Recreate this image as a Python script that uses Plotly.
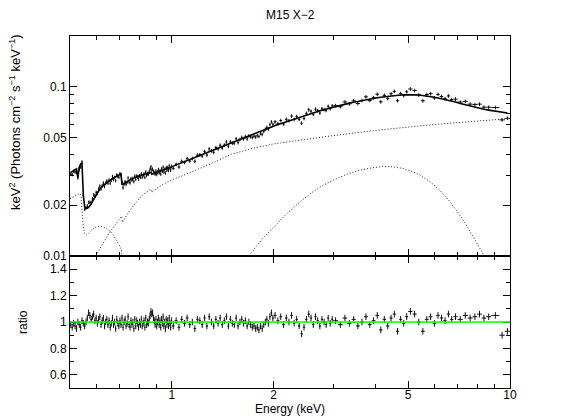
import numpy as np
import plotly.graph_objects as go
from plotly.subplots import make_subplots

# ---------------- data ----------------
E_EDGES = [
    0.500, 0.505, 0.510, 0.515, 0.520, 0.525, 0.530, 0.535, 0.540, 0.545,
    0.550, 0.555, 0.560, 0.565, 0.570, 0.575, 0.580, 0.585, 0.590, 0.595,
    0.600, 0.605, 0.610, 0.615, 0.620, 0.625, 0.630, 0.635, 0.640, 0.645,
    0.650, 0.655, 0.660, 0.665, 0.670, 0.675, 0.680, 0.685, 0.690, 0.695,
    0.700, 0.705, 0.710, 0.715, 0.720, 0.725, 0.730, 0.735, 0.740, 0.745,
    0.750, 0.755, 0.760, 0.765, 0.770, 0.775, 0.780, 0.785, 0.790, 0.795,
    0.800, 0.805, 0.810, 0.815, 0.820, 0.825, 0.830, 0.835, 0.840, 0.845,
    0.850, 0.855, 0.860, 0.865, 0.870, 0.875, 0.880, 0.885, 0.890, 0.895,
    0.900, 0.905, 0.910, 0.915, 0.920, 0.925, 0.930, 0.935, 0.940, 0.945,
    0.950, 0.955, 0.960, 0.965, 0.970, 0.975, 0.980, 0.985, 0.990, 0.995,
    1.00, 1.02, 1.04, 1.06, 1.08, 1.10, 1.12, 1.14, 1.16, 1.18,
    1.20, 1.22, 1.24, 1.26, 1.28, 1.30, 1.32, 1.34, 1.36, 1.38,
    1.40, 1.42, 1.44, 1.46, 1.48, 1.50, 1.52, 1.54, 1.56, 1.58,
    1.60, 1.62, 1.64, 1.66, 1.68, 1.70, 1.72, 1.74, 1.76, 1.78,
    1.80, 1.82, 1.84, 1.86, 1.88, 1.90, 1.92, 1.94, 1.96, 1.98,
    2.00, 2.04, 2.08, 2.12, 2.16, 2.20, 2.24, 2.28, 2.32, 2.36,
    2.40, 2.44, 2.48, 2.52, 2.56, 2.60, 2.64, 2.68, 2.72, 2.76,
    2.80, 2.84, 2.88, 2.92, 2.96,
    3.0, 3.1, 3.2, 3.3, 3.4, 3.5, 3.6, 3.7, 3.8, 3.9,
    4.0, 4.1, 4.2, 4.3, 4.4, 4.5, 4.6, 4.7, 4.8, 4.9,
    5.0, 5.15, 5.3, 5.45, 5.6, 5.75, 5.9, 6.05, 6.2, 6.35, 6.5, 6.65, 6.8,
    7.0, 7.25, 7.5, 7.75, 8.0, 8.25, 8.5, 8.8, 9.3, 9.65, 10.0,
]

# model (keV^2 Photons cm^-2 s^-1 keV^-1) read at each bin
MODEL = [
    0.0312, 0.0316, 0.0320, 0.0324, 0.0328, 0.0290, 0.0334, 0.0350, 0.0356, 0.0230,
    0.0195, 0.0192, 0.0192, 0.0194, 0.0198, 0.0203, 0.0210, 0.0217, 0.0224, 0.0231,
    0.0238, 0.0244, 0.0249, 0.0254, 0.0258, 0.0262, 0.0266, 0.0269, 0.0272, 0.0275,
    0.0278, 0.0281, 0.0284, 0.0286, 0.0289, 0.0291, 0.0294, 0.0296, 0.0299, 0.0301,
    0.0304, 0.0306, 0.0265, 0.0264, 0.0267, 0.0270, 0.0273, 0.0276, 0.0278, 0.0280,
    0.0282, 0.0284, 0.0286, 0.0288, 0.0290, 0.0291, 0.0293, 0.0294, 0.0296, 0.0297,
    0.0298, 0.0299, 0.0300, 0.0301, 0.0302, 0.0303, 0.0304, 0.0305, 0.0306, 0.0307,
    0.0308, 0.0309, 0.0311, 0.0312, 0.0304, 0.0305, 0.0307, 0.0309, 0.0311, 0.0312,
    0.0313, 0.0314, 0.0315, 0.0316, 0.0317, 0.0318, 0.0320, 0.0321, 0.0322, 0.0323,
    0.0325, 0.0326, 0.0327, 0.0328, 0.0330, 0.0331, 0.0332, 0.0333, 0.0335, 0.0336,
    0.0340, 0.0345, 0.0350, 0.0356, 0.0361, 0.0366, 0.0372, 0.0377, 0.0382, 0.0387,
    0.0393, 0.0398, 0.0403, 0.0408, 0.0413, 0.0418, 0.0423, 0.0429, 0.0434, 0.0439,
    0.0444, 0.0449, 0.0454, 0.0459, 0.0464, 0.0469, 0.0474, 0.0479, 0.0483, 0.0488,
    0.0493, 0.0498, 0.0503, 0.0508, 0.0513, 0.0518, 0.0523, 0.0527, 0.0532, 0.0537,
    0.0542, 0.0547, 0.0551, 0.0556, 0.0561, 0.0565, 0.0570, 0.0575, 0.0580, 0.0584,
    0.0592, 0.0600, 0.0608, 0.0616, 0.0624, 0.0632, 0.0640, 0.0648, 0.0655, 0.0662,
    0.0670, 0.0677, 0.0684, 0.0690, 0.0697, 0.0703, 0.0710, 0.0716, 0.0722, 0.0728,
    0.0734, 0.0740, 0.0745, 0.0751, 0.0757,
    0.0767, 0.0779, 0.0791, 0.0802, 0.0812, 0.0822, 0.0831, 0.0840, 0.0848, 0.0855,
    0.0862, 0.0868, 0.0874, 0.0879, 0.0884, 0.0888, 0.0892, 0.0895, 0.0897, 0.0899,
    0.0900, 0.0898, 0.0895, 0.0890, 0.0884, 0.0877, 0.0869, 0.0860, 0.0852, 0.0843,
    0.0834, 0.0825, 0.0814,
    0.0797, 0.0782, 0.0768, 0.0756, 0.0746, 0.0737, 0.0729, 0.0719, 0.0709, 0.0701,
]

# data / model ratio read at each bin
RATIO = [
    0.98, 0.96, 0.99, 0.97, 0.95, 1.00, 0.98, 0.96, 1.01, 0.99,
    0.97, 1.00, 1.03, 1.07, 1.05, 1.02, 1.04, 1.06, 1.01, 1.03,
    0.99, 1.02, 1.04, 0.98, 1.01, 1.03, 0.97, 1.00, 1.02, 0.98,
    1.01, 0.96, 0.99, 1.03, 0.98, 1.00, 0.95, 1.02, 0.99, 0.97,
    1.01, 0.98, 1.03, 0.96, 1.00, 1.02, 0.97, 0.99, 1.04, 0.98,
    0.96, 1.01, 0.98, 1.00, 0.95, 1.02, 0.97, 1.01, 0.99, 0.96,
    1.00, 0.98, 1.02, 0.97, 0.99, 1.01, 0.96, 1.03, 0.98, 1.00,
    0.99, 1.02, 1.05, 1.08, 1.06, 1.07, 1.03, 1.01, 0.98, 1.02,
    0.97, 1.00, 1.03, 0.98, 1.01, 0.96, 1.02, 0.99, 1.04, 0.97,
    1.00, 0.95, 1.02, 0.98, 1.01, 0.97, 1.03, 0.99, 0.96, 1.01,
    0.97, 1.01, 0.96, 1.02, 0.99, 1.03, 0.98, 1.00, 0.95, 1.02,
    1.01, 0.98, 1.03, 0.97, 1.04, 1.00, 0.97, 1.02, 0.99, 1.03,
    0.98, 1.01, 1.04, 0.97, 1.02, 0.99, 0.98, 1.03, 0.97, 1.00,
    1.02, 0.99, 1.01, 0.97, 1.00, 0.98, 0.96, 0.97, 0.95, 0.96,
    0.94, 0.97, 0.95, 0.98, 1.00, 1.02, 0.99, 1.04, 1.07, 1.03,
    1.05, 1.01, 1.04, 0.98, 1.03, 1.00, 1.05, 0.99, 1.02, 0.97,
    0.91, 0.96, 1.02, 1.06, 1.03, 0.98, 1.04, 1.01, 0.97, 1.02,
    1.00, 0.98, 1.03, 0.99, 1.02,
    1.01, 0.98, 1.03, 0.99, 1.02, 0.97, 1.00, 1.04, 0.98, 1.01,
    1.05, 0.94, 1.02, 0.97, 1.03, 1.06, 0.93, 1.02, 0.99, 1.04,
    1.08, 1.06, 1.00, 0.93, 1.02, 1.04, 0.99, 1.05, 1.03, 1.01,
    1.06, 1.02, 1.04,
    1.02, 1.05, 1.03, 1.04, 1.06, 1.03, 1.04, 1.05, 0.90, 0.93,
]
RATIO_ERR = 0.025
FLUX_ERR_PCT = 2.5

# model components (dotted)
SOFT_E = [0.500, 0.510, 0.520, 0.530, 0.538, 0.541, 0.543, 0.547, 0.552, 0.560, 0.575,
          0.590, 0.605, 0.620, 0.640, 0.660, 0.680, 0.695, 0.705, 0.710, 0.712]
SOFT_V = [0.0218, 0.0224, 0.0229, 0.0232, 0.0233, 0.0205, 0.0178, 0.0150, 0.0136, 0.0133, 0.0140,
          0.0147, 0.0150, 0.0150, 0.0146, 0.0139, 0.0128, 0.0119, 0.0112, 0.0108, 0.0095]

CONT_E = [0.590, 0.620, 0.650, 0.680, 0.705, 0.711, 0.714, 0.740, 0.780, 0.820, 0.860, 0.868,
          0.872, 0.900, 0.950, 1.00, 1.06, 1.15, 1.30, 1.50, 1.75, 2.00, 2.50, 3.00, 4.00,
          5.00, 6.00, 7.00, 8.00, 9.00, 10.0]
CONT_V = [0.0097, 0.0116, 0.0135, 0.0153, 0.0168, 0.0172, 0.0158, 0.0178, 0.0205, 0.0230, 0.0246, 0.0248,
          0.0238, 0.0250, 0.0268, 0.0282, 0.0295, 0.0315, 0.0350, 0.0400, 0.0435, 0.0460, 0.0492, 0.0515, 0.0553,
          0.0580, 0.0600, 0.0615, 0.0628, 0.0640, 0.0650]

BB_E = [1.65, 1.75, 1.85, 2.0, 2.2, 2.4, 2.6, 2.8, 3.0, 3.3, 3.6, 3.9, 4.2, 4.5, 4.8,
        5.1, 5.4, 5.8, 6.2, 6.6, 7.0, 7.4, 7.8, 8.1, 8.4, 8.6]
BB_V = [0.0094, 0.0110, 0.0126, 0.0148, 0.0180, 0.0210, 0.0238, 0.0262, 0.0281, 0.0305, 0.0322,
        0.0332, 0.0338, 0.0337, 0.0330, 0.0318, 0.0302, 0.0275, 0.0245, 0.0213, 0.0182, 0.0154,
        0.0130, 0.0113, 0.0100, 0.0093]

UNITY = 1.0

X_TICKS = [1, 2, 5, 10]
X_TICKTEXT = ["1", "2", "5", "10"]
X_MINOR = [0.6, 0.7, 0.8, 0.9, 3, 4, 6, 7, 8, 9]
Y1_TICKS = [0.01, 0.02, 0.05, 0.1]
Y1_TICKTEXT = ["0.01", "0.02", "0.05", "0.1"]
Y1_MINOR = [0.03, 0.04, 0.06, 0.07, 0.08, 0.09]
Y2_TICKS = [0.6, 0.8, 1.0, 1.2, 1.4]
Y2_TICKTEXT = ["0.6", "0.8", "1", "1.2", "1.4"]
Y2_MINOR = [0.7, 0.9, 1.1, 1.3]

# ---------------- derived ----------------
edges = np.array(E_EDGES)
lo, hi = edges[:-1], edges[1:]
centers = 0.5 * (lo + hi)
model = np.array(MODEL)
ratio = np.array(RATIO)
if not (len(centers) == len(model) == len(ratio)):
    raise SystemExit(f"length mismatch {len(centers)} {len(model)} {len(ratio)}")
flux = model * ratio
xerr_p = hi - centers
xerr_m = centers - lo

FONT = "Liberation Sans, Arial, Helvetica, sans-serif"
INK = "#111111"

fig = make_subplots(rows=2, cols=1, shared_xaxes=True, vertical_spacing=0,
                    row_heights=[0.625, 0.375])

comp_line = dict(color="#222222", width=1, dash="1px,2px")
for cx, cy in ((SOFT_E, SOFT_V), (CONT_E, CONT_V), (BB_E, BB_V)):
    fig.add_trace(go.Scatter(x=cx, y=cy, mode="lines", line=comp_line,
                             showlegend=False, hoverinfo="skip"), row=1, col=1)

fig.add_trace(go.Scatter(
    x=centers, y=flux, mode="markers",
    marker=dict(size=1, color=INK),
    error_x=dict(type="data", array=xerr_p, arrayminus=xerr_m, thickness=1, width=0, color=INK),
    error_y=dict(type="percent", value=FLUX_ERR_PCT, thickness=1, width=0, color=INK),
    showlegend=False), row=1, col=1)

fig.add_trace(go.Scatter(x=centers, y=model, mode="lines",
                         line=dict(color="black", width=1.6),
                         showlegend=False), row=1, col=1)

fig.add_trace(go.Scatter(
    x=centers, y=ratio, mode="markers",
    marker=dict(size=1, color=INK),
    error_x=dict(type="data", array=xerr_p, arrayminus=xerr_m, thickness=1, width=0, color=INK),
    error_y=dict(type="constant", value=RATIO_ERR, thickness=1, width=0, color=INK),
    showlegend=False), row=2, col=1)

fig.add_hline(y=UNITY, line=dict(color="#00ff00", width=1.6), row=2, col=1)

axis_common = dict(showline=True, linecolor="black", linewidth=1, mirror="ticks",
                   ticks="inside", tickcolor="black", ticklen=7, tickwidth=1,
                   showgrid=False, zeroline=False,
                   tickfont=dict(family=FONT, size=12, color="black"))

xr = [np.log10(E_EDGES[0]), np.log10(E_EDGES[-1])]
fig.update_xaxes(type="log", range=xr, tickvals=X_TICKS, ticktext=X_TICKTEXT,
                 minor=dict(tickvals=X_MINOR, ticks="inside", ticklen=4, tickcolor="black"),
                 **axis_common)
fig.update_xaxes(showticklabels=False, row=1, col=1)
fig.update_xaxes(ticklabelstandoff=-4, row=2, col=1)
fig.update_yaxes(type="log", range=[np.log10(0.01), np.log10(0.2)],
                 tickvals=Y1_TICKS, ticktext=Y1_TICKTEXT,
                 minor=dict(tickvals=Y1_MINOR, ticks="inside", ticklen=4, tickcolor="black"),
                 row=1, col=1, **axis_common)
fig.update_yaxes(range=[0.5, 1.5], tickvals=Y2_TICKS, ticktext=Y2_TICKTEXT,
                 minor=dict(tickvals=Y2_MINOR, ticks="inside", ticklen=4, tickcolor="black"),
                 row=2, col=1, **axis_common)

PW, PH = 440, 352
ann_font = dict(family=FONT, size=12, color="black")
fig.update_layout(
    width=565, height=419,
    margin=dict(l=70, r=55, t=36, b=31),
    paper_bgcolor="white", plot_bgcolor="white",
    showlegend=False,
    annotations=[
        dict(text="M15 X\u22122", xref="paper", yref="paper", x=0.5, y=1 + 21 / PH,
             xanchor="center", yanchor="middle", showarrow=False, font=ann_font),
        dict(text="keV<sup>2</sup> (Photons cm<sup>\u22122</sup> s<sup>\u22121</sup> keV<sup>\u22121</sup>)",
             xref="paper", yref="paper", x=-55 / PW, y=(388 - 122) / PH,
             xanchor="center", yanchor="middle", textangle=-90, showarrow=False,
             font=dict(family=FONT, size=13, color="black")),
        dict(text="ratio", xref="paper", yref="paper", x=-47 / PW, y=(388 - 322) / PH,
             xanchor="center", yanchor="middle", textangle=-90, showarrow=False, font=ann_font),
        dict(text="Energy (keV)", xref="paper", yref="paper", x=0.5, y=-21 / PH,
             xanchor="center", yanchor="middle", showarrow=False, font=ann_font),
    ],
)

fig.write_html("out.html", config={"displayModeBar": False},
               post_script="document.body.style.margin='0px';")
